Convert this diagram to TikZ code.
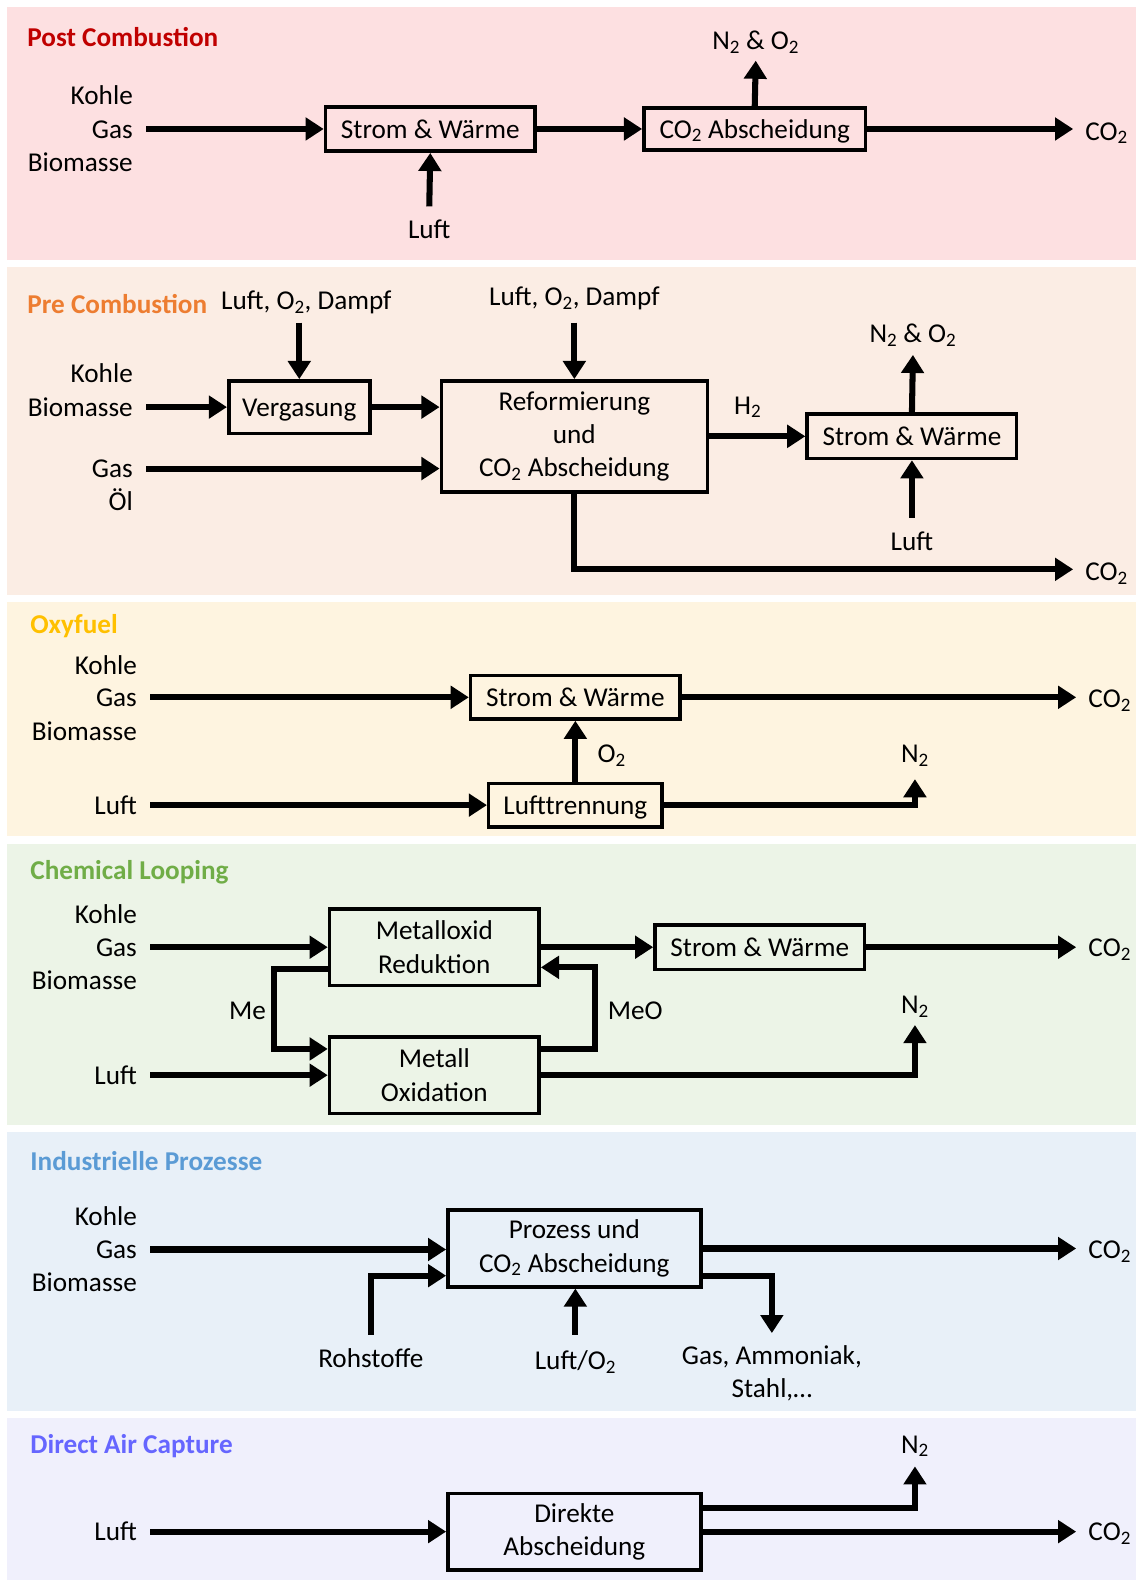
\documentclass[tikz,border=0pt]{standalone}
\usepackage{fontspec}
\setmainfont{Carlito}
\usetikzlibrary{arrows.meta,calc}
\definecolor{bgpost}{RGB}{253,224,225}
\definecolor{bgpre}{RGB}{251,237,228}
\definecolor{bgoxy}{RGB}{254,244,224}
\definecolor{bgchem}{RGB}{236,244,231}
\definecolor{bgind}{RGB}{232,240,248}
\definecolor{bgdac}{RGB}{240,240,252}
\definecolor{tpost}{RGB}{192,0,0}
\definecolor{tpre}{RGB}{237,125,49}
\definecolor{toxy}{RGB}{255,192,0}
\definecolor{tchem}{RGB}{112,173,71}
\definecolor{tind}{RGB}{91,155,213}
\definecolor{tdac}{RGB}{102,102,255}
\newcommand{\sub}[1]{\textsubscript{#1}}
\begin{document}
\begin{tikzpicture}[x=1pt,y=-1pt,
  every node/.style={font=\fontsize{27}{33}\selectfont, inner sep=0pt},
  lbl/.style={text height=23pt, text depth=5pt},
  inl/.style={lbl, anchor=east},
  outl/.style={lbl, anchor=west},
  box/.style={draw, line width=3.5pt, align=center},
  sbox/.style={box, text height=18pt, text depth=0pt},
  flow/.style={line width=6pt, -{Triangle[length=18pt,width=22pt]}},
  ttl/.style={lbl, anchor=west, font=\fontsize{27}{33}\selectfont\bfseries}
]
\useasboundingbox (0,0) rectangle (1127,1568);
% panels
\fill[bgpost] (7,7) rectangle (1127,258);
\fill[bgpre] (7,265) rectangle (1127,590);
\fill[bgoxy] (7,597) rectangle (1127,830);
\fill[bgchem] (7,838) rectangle (1127,1116);
\fill[bgind] (7,1123) rectangle (1127,1400);
\fill[bgdac] (7,1407) rectangle (1127,1568);

% ---------- Post Combustion ----------
\node[ttl, text=tpost] (t1) at (27,37) {Post Combustion};
\node[inl] (p1k) at (132,95) {Kohle};
\node[inl] (p1g) at (132,128) {Gas};
\node[inl] (p1b) at (132,161) {Biomasse};
\node[sbox, minimum width=208, minimum height=44] (p1s) at (427,128) {Strom \& Wärme};
\node[sbox, minimum width=220, minimum height=42] (p1c) at (749,128) {CO\sub{2} Abscheidung};
\node[lbl] (p1n) at (750,40) {N\sub{2} \& O\sub{2}};
\node[outl] (p1o) at (1077,130) {CO\sub{2}};
\node[lbl] (p1l) at (426,228) {Luft};
\draw[flow] ([xshift=13]p1g.east) -- (p1g.east -| p1s.west);
\draw[flow] (p1s.east) -- (p1c.west);
\draw[flow] (p1c.north) -- ([yshift=-6]p1n.south);
\draw[flow] (p1c.east) -- ([xshift=-12]p1o.west |- p1c.east);
\draw[flow] ([yshift=9]p1l.north) -- (p1s.south);

% ---------- Pre Combustion ----------
\node[ttl, text=tpre] (t2) at (27,302) {Pre Combustion};
\node[lbl] (p2a1) at (304,298) {Luft, O\sub{2}, Dampf};
\node[lbl] (p2a2) at (570,294) {Luft, O\sub{2}, Dampf};
\node[inl] (p2k) at (132,371) {Kohle};
\node[inl] (p2b) at (132,404) {Biomasse};
\node[inl] (p2g) at (132,465) {Gas};
\node[inl] (p2oe) at (132,498) {Öl};
\node[sbox, minimum width=140, minimum height=52] (p2v) at (297,404) {Vergasung};
\node[box, minimum width=264, minimum height=110] (p2r) at (570,433) {Reformierung\\und\\CO\sub{2} Abscheidung};
\node[sbox, minimum width=208, minimum height=44] (p2s) at (905,433) {Strom \& Wärme};
\node[lbl] (p2h) at (742,402) {H\sub{2}};
\node[lbl] (p2n) at (906,331) {N\sub{2} \& O\sub{2}};
\node[lbl] (p2l) at (905,537) {Luft};
\node[outl] (p2o) at (1077,567) {CO\sub{2}};
\coordinate (p2a1s) at ([yshift=-8]p2a1.south);
\coordinate (p2a2s) at ([yshift=-12]p2a2.south);
\draw[flow] (p2a1s -| p2v.north) -- (p2v.north);
\draw[flow] (p2a2s -| p2r.north) -- (p2r.north);
\draw[flow] ([xshift=13]p2b.east) -- (p2b.east -| p2v.west);
\draw[flow] (p2v.east) -- (p2v.east -| p2r.west);
\draw[flow] ([xshift=13]p2g.east) -- (p2g.east -| p2r.west);
\draw[flow] (p2r.east) -- (p2s.west);
\draw[flow] (p2s.north) -- ([yshift=-7]p2n.south);
\draw[flow] ([yshift=9]p2l.north) -- (p2s.south);
\draw[flow] (p2r.south) |- ([xshift=-12,yshift=2]p2o.west);

% ---------- Oxyfuel ----------
\node[ttl, text=toxy] (t3) at (30,620) {Oxyfuel};
\node[inl] (p3k) at (136,660) {Kohle};
\node[inl] (p3g) at (136,692) {Gas};
\node[inl] (p3b) at (136,726) {Biomasse};
\node[inl] (p3l) at (136,799) {Luft};
\node[sbox, minimum width=208, minimum height=43] (p3s) at (571,692) {Strom \& Wärme};
\node[sbox, minimum width=172, minimum height=43] (p3t) at (571,799) {Lufttrennung};
\node[lbl] (p3o2) at (607,748) {O\sub{2}};
\node[lbl] (p3n2) at (908,748) {N\sub{2}};
\node[outl] (p3o) at (1080,693) {CO\sub{2}};
\draw[flow] ([xshift=13]p3g.east) -- (p3g.east -| p3s.west);
\draw[flow] (p3s.east) -- ([xshift=-12]p3o.west |- p3s.east);
\draw[flow] ([xshift=13]p3l.east) -- (p3l.east -| p3t.west);
\draw[flow] (p3t.north) -- (p3s.south);
\coordinate (p3n2s) at ([yshift=-11]p3n2.south);
\draw[flow] (p3t.east) -| (p3n2s);

% ---------- Chemical Looping ----------
\node[ttl, text=tchem] (t4) at (30,864) {Chemical Looping};
\node[inl] (p4k) at (136,907) {Kohle};
\node[inl] (p4g) at (136,940) {Gas};
\node[inl] (p4b) at (136,973) {Biomasse};
\node[inl] (p4l) at (136,1067) {Luft};
\node[box, minimum width=208, minimum height=76] (p4r) at (431,940) {Metalloxid\\Reduktion};
\node[sbox, minimum width=208, minimum height=44] (p4s) at (754,940) {Strom \& Wärme};
\node[box, minimum width=208, minimum height=76] (p4o) at (431,1067) {Metall\\Oxidation};
\node[inl] (p4me) at (264,1003) {Me};
\node[outl] (p4meo) at (603,1003) {MeO};
\node[lbl] (p4n2) at (908,997) {N\sub{2}};
\node[outl] (p4co) at (1080,940) {CO\sub{2}};
\draw[flow] ([xshift=13]p4g.east) -- (p4g.east -| p4r.west);
\draw[flow] (p4r.east |- p4s.west) -- (p4s.west);
\draw[flow] (p4s.east) -- ([xshift=-12]p4co.west |- p4s.east);
\draw[flow] ([xshift=13]p4l.east) -- (p4l.east -| p4o.west);
\draw[flow] ([yshift=-22]p4r.west) -- ++(-53,0) |- ([yshift=26]p4o.west);
\draw[flow] ([yshift=26]p4o.east) -- ++(54,0) |- ([yshift=-20]p4r.east);
\coordinate (p4n2s) at ([yshift=-6]p4n2.south);
\draw[flow] (p4o.east) -| (p4n2s);

% ---------- Industrielle Prozesse ----------
\node[ttl, text=tind] (t5) at (30,1153) {Industrielle Prozesse};
\node[inl] (p5k) at (136,1207) {Kohle};
\node[inl] (p5g) at (136,1240) {Gas};
\node[inl] (p5b) at (136,1273) {Biomasse};
\node[box, minimum width=251, minimum height=76] (p5p) at (570,1239) {Prozess und\\CO\sub{2} Abscheidung};
\node[outl] (p5co) at (1080,1240) {CO\sub{2}};
\node[lbl] (p5r) at (368,1348) {Rohstoffe};
\node[lbl] (p5l) at (571,1350) {Luft/O\sub{2}};
\node[align=center, anchor=north] (p5out) at (766,1335) {Gas, Ammoniak,\\Stahl,…};
\draw[flow] ([xshift=13]p5g.east) -- (p5g.east -| p5p.west);
\draw[flow] (p5p.east) -- ([xshift=-12]p5co.west |- p5p.east);
\draw[flow] ([yshift=9]p5r.north) |- ([yshift=-27]p5p.west);
\draw[flow] ([yshift=11]p5l.north) -- (p5l.north |- p5p.south);
\coordinate (p5outn) at ([yshift=12]p5out.north);
\draw[flow] ([yshift=-27]p5p.east) -| (p5outn);

% ---------- Direct Air Capture ----------
\node[ttl, text=tdac] (t6) at (30,1433) {Direct Air Capture};
\node[inl] (p6l) at (136,1520) {Luft};
\node[box, minimum width=251, minimum height=76] (p6d) at (570,1520) {Direkte\\Abscheidung};
\node[outl] (p6co) at (1080,1520) {CO\sub{2}};
\node[lbl] (p6n2) at (908,1433) {N\sub{2}};
\draw[flow] ([xshift=13]p6l.east) -- (p6l.east -| p6d.west);
\draw[flow] (p6d.east) -- ([xshift=-12]p6co.west |- p6d.east);
\coordinate (p6n2s) at ([yshift=-8]p6n2.south);
\draw[flow] ([yshift=23]p6d.east) -| (p6n2s);
\end{tikzpicture}
\end{document}
